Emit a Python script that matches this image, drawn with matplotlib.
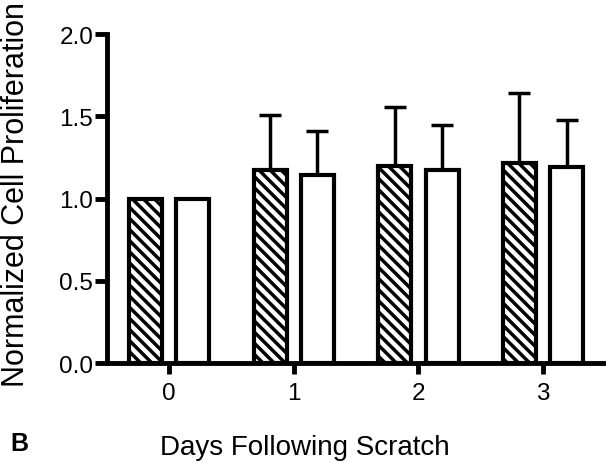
import matplotlib
matplotlib.use("Agg")
import matplotlib.pyplot as plt
import numpy as np

plt.rcParams['font.family'] = ['Liberation Sans', 'DejaVu Sans']
plt.rcParams['hatch.linewidth'] = 2.5

days = ["0", "1", "2", "3"]
hatched_vals = [1.00, 1.175, 1.195, 1.215]
hatched_err = [0.0, 0.335, 0.36, 0.425]
open_vals = [1.00, 1.145, 1.175, 1.19]
open_err = [0.0, 0.265, 0.27, 0.29]

fig = plt.figure(figsize=(6.06, 4.64), dpi=100)
ax = fig.add_axes([0.1766, 0.2155, 0.822, 0.709])

x = np.arange(len(days))
w = 0.265
off = 0.19
lw = 3.0
ax.bar(x - off, hatched_vals, w, color='white', edgecolor='black', linewidth=lw,
       hatch='\\\\\\', zorder=3)
ax.bar(x + off, open_vals, w, color='white', edgecolor='black', linewidth=lw, zorder=3)
for xs, v, e in [(x - off, hatched_vals, hatched_err), (x + off, open_vals, open_err)]:
    for xi, vi, ei in zip(xs, v, e):
        if ei > 0:
            ax.errorbar([xi], [vi], yerr=[[0], [ei]], fmt='none', ecolor='black',
                        elinewidth=2.5, capsize=8, capthick=2.5, zorder=2)

ax.set_xlim(-0.5, 3.5)
ax.set_ylim(0, 2.0)
ax.set_xticks(x)
ax.set_xticklabels(days)
ax.set_yticks([0.0, 0.5, 1.0, 1.5, 2.0])
ax.set_yticklabels(["0.0", "0.5", "1.0", "1.5", "2.0"])
for s in ['top', 'right']:
    ax.spines[s].set_visible(False)
for s in ['left', 'bottom']:
    ax.spines[s].set_linewidth(3.5)
ax.tick_params(axis='y', width=3.5, length=9, labelsize=17.5, pad=1)
ax.tick_params(axis='x', width=3.5, length=8, labelsize=17.5, pad=6)
ax.set_ylabel("Normalized Cell Proliferation", fontsize=22)
ax.yaxis.set_label_coords(-0.152, 0.515)
ax.set_xlabel("Days Following Scratch", fontsize=20)
ax.xaxis.set_label_coords(0.397, -0.215)
fig.text(0.0165, 0.043, "B", fontsize=18, fontweight='bold', ha='left', va='center')

fig.savefig("out.png", dpi=100)
